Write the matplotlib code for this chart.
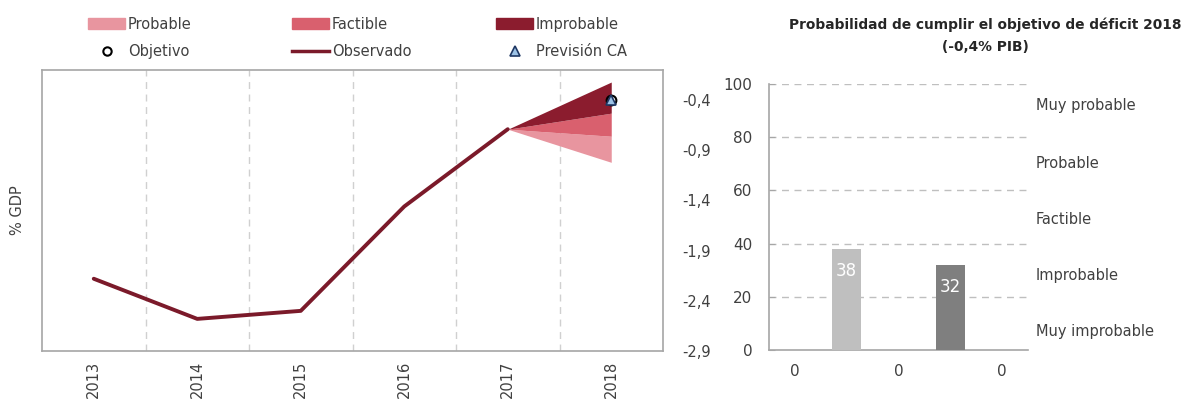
import matplotlib
matplotlib.use("Agg")
import matplotlib.pyplot as plt
from matplotlib.patches import Patch
from matplotlib.lines import Line2D
import numpy as np

# ---------------- data ----------------
years = ["2013", "2014", "2015", "2016", "2017", "2018"]
observed = [-2.18, -2.58, -2.50, -1.46, -0.69]          # 2013-2017
fan_top = -0.22        # upper edge of "Improbable" band in 2018
fan_improb_fact = -0.53
fan_fact_prob = -0.76
fan_bottom = -1.02
objetivo = -0.40
prevision_ca = -0.40
left_yticks = [-2.9, -2.4, -1.9, -1.4, -0.9, -0.4]
left_yticklabels = ["-2,9", "-2,4", "-1,9", "-1,4", "-0,9", "-0,4"]

bar_categories = ["0", "", "0", "", "0"]
bar_values = [0, 38, 0, 32, 0]
bar_colors = ["#bfbfbf", "#bfbfbf", "#7f7f7f", "#7f7f7f", "#7f7f7f"]
bar_labels = ["", "38", "", "32", ""]
zone_labels = ["Muy probable", "Probable", "Factible", "Improbable", "Muy improbable"]
zone_label_y = [92, 70, 49, 28, 7]
right_yticks = [0, 20, 40, 60, 80, 100]

c_prob = "#e8959f"
c_fact = "#d9606e"
c_improb = "#8b1c2e"
c_line = "#7b1a2a"
txt = "#404040"
frame = "#a6a6a6"

plt.rcParams['font.family'] = ['DejaVu Sans']
fig = plt.figure(figsize=(11.88, 4.01), dpi=100)

# ---------------- left chart ----------------
ax = fig.add_axes([42/1188, 1-351/401, (663-42)/1188, (351-70)/401])
x = np.arange(len(years))
x_obs = x[:len(observed)]
x_fan = [x[4], x[5]]
start = observed[-1]
ax.fill_between(x_fan, [start, fan_fact_prob], [start, fan_bottom], color=c_prob, lw=0)
ax.fill_between(x_fan, [start, fan_improb_fact], [start, fan_fact_prob], color=c_fact, lw=0)
ax.fill_between(x_fan, [start, fan_top], [start, fan_improb_fact], color=c_improb, lw=0)
ax.plot(x_obs, observed, color=c_line, lw=2.8, solid_capstyle='round')
ax.plot([x[5]], [objetivo], marker='o', ms=7, mfc='none', mec='black', mew=1.5, ls='none')
ax.plot([x[5]], [prevision_ca], marker='^', ms=7, mfc='#9dc3e6', mec='#1f3864', mew=1.2, ls='none')

ax.set_xlim(-0.5, len(years) - 0.5)
ax.set_ylim(-2.9, -0.1)
for b in np.arange(0.5, len(years) - 0.5, 1.0):
    ax.axvline(b, color="#d0d0d0", lw=1, ls=(0, (5, 4)), zorder=0)
ax.set_xticks(x)
ax.set_xticklabels(years, rotation=90, fontsize=10.5, color=txt)
ax.yaxis.tick_right()
ax.set_yticks(left_yticks)
ax.set_yticklabels(left_yticklabels, fontsize=10.5, color=txt)
ax.tick_params(axis='both', length=0, pad=14)
ax.tick_params(axis='x', pad=7)
for s in ax.spines.values():
    s.set_color(frame)
    s.set_linewidth(1.2)
fig.text(18/1188, 1-210/401, "% GDP", rotation=90, ha='center', va='center', fontsize=10.5, color=txt)

legend_cols = [
    (88, [Patch(color=c_prob),
          Line2D([], [], marker='o', ls='none', mfc='none', mec='black', mew=1.5, ms=6)],
     ["Probable", "Objetivo"]),
    (292, [Patch(color=c_fact),
           Line2D([], [], color=c_line, lw=2.5)],
     ["Factible", "Observado"]),
    (496, [Patch(color=c_improb),
           Line2D([], [], marker='^', ls='none', mfc='#9dc3e6', mec='#1f3864', mew=1.2, ms=7)],
     ["Improbable", "Previsión CA"]),
]
for x0, hs, ls_ in legend_cols:
    leg = fig.legend(hs, ls_, loc='center left', bbox_to_anchor=(x0/1188, 1-38/401),
                     frameon=False, fontsize=10.5, handlelength=2.55, handleheight=0.75,
                     handletextpad=0.2, labelspacing=0.85, borderaxespad=0, borderpad=0)
    for t in leg.get_texts():
        t.set_color(txt)

# ---------------- right chart ----------------
ax2 = fig.add_axes([769/1188, 1-350/401, (1028-769)/1188, (350-84)/401])
xb = np.arange(len(bar_categories))
bars = ax2.bar(xb, bar_values, width=0.55, color=bar_colors, zorder=3)
for xi, v, lab in zip(xb, bar_values, bar_labels):
    if lab:
        ax2.text(xi, v - 5, lab, ha='center', va='top', color='white', fontsize=12, zorder=4)
ax2.set_xlim(-0.5, len(bar_categories) - 0.5)
ax2.set_ylim(0, 100)
ax2.set_yticks(right_yticks)
ax2.set_yticklabels([str(v) for v in right_yticks], fontsize=11, color=txt)
ax2.set_xticks(xb)
ax2.set_xticklabels(bar_categories, fontsize=11, color=txt)
for v in right_yticks[1:]:
    ax2.axhline(v, color="#bfbfbf", lw=1, ls=(0, (5, 4)), zorder=1)
ax2.tick_params(axis='y', direction='in', length=4, color=frame, pad=12)
ax2.tick_params(axis='x', length=0, pad=10)
for s in ['top', 'right']:
    ax2.spines[s].set_visible(False)
for s in ['left', 'bottom']:
    ax2.spines[s].set_color(frame)
    ax2.spines[s].set_linewidth(1.2)
for lab, yv in zip(zone_labels, zone_label_y):
    ax2.text(1.03, yv / 100, lab, transform=ax2.transAxes, ha='left', va='center',
             fontsize=10.5, color=txt)
fig.text(985/1188, 1-25/401, "Probabilidad de cumplir el objetivo de déficit 2018",
         ha='center', va='center', fontsize=9.9, fontweight='bold', color="#262626")
fig.text(985/1188, 1-47/401, "(-0,4% PIB)", ha='center', va='center',
         fontsize=9.9, fontweight='bold', color="#262626")

fig.savefig("out.png", dpi=100)
